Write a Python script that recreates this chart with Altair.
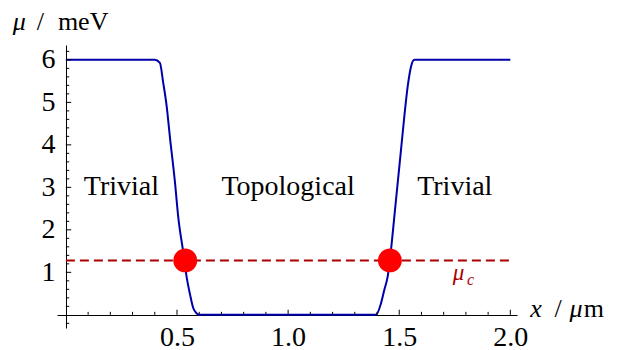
import altair as alt
import pandas as pd

# ---- data ----
left_x = [0.0, 0.400, 0.423, 0.438, 0.454, 0.468, 0.491, 0.506, 0.528, 0.544, 0.559, 0.573, 0.589, 0.600]
left_mu = [6.0, 6.0, 5.93, 5.46, 4.89, 4.19, 3.11, 2.28, 1.48, 0.87, 0.47, 0.16, 0.03, 0.0]
right_x = [1.395, 1.418, 1.433, 1.448, 1.463, 1.478, 1.493, 1.508, 1.523, 1.538, 1.553, 1.568, 1.583, 2.0]
right_mu = [0.0, 0.27, 0.59, 0.90, 1.53, 2.31, 3.10, 3.88, 4.67, 5.37, 5.84, 6.0, 6.0, 6.0]

mu_c = 1.28
cross_x = [0.537, 1.458]

phase_names = ["Trivial", "Topological", "Trivial"]
phase_x = [0.25, 1.0, 1.75]
phase_y = [3.0, 3.0, 3.0]

x_major = [0.5, 1.0, 1.5, 2.0]
x_minor = [0.1, 0.2, 0.3, 0.4, 0.6, 0.7, 0.8, 0.9, 1.1, 1.2, 1.3, 1.4, 1.6, 1.7, 1.8, 1.9]
y_major = [1, 2, 3, 4, 5, 6]
y_minor = [-0.2, 0.2, 0.4, 0.6, 0.8, 1.2, 1.4, 1.6, 1.8, 2.2, 2.4, 2.6, 2.8,
           3.2, 3.4, 3.6, 3.8, 4.2, 4.4, 4.6, 4.8, 5.2, 5.4, 5.6, 5.8, 6.2]

FONT = "Liberation Serif"
BLUE = "#0000AA"
DRED = "#AA0000"
RED = "#FF0000"

xs = alt.Scale(domain=[-0.04, 2.03], nice=False, zero=False)
ys = alt.Scale(domain=[-0.31, 6.35], nice=False, zero=False)

# ---- tables ----
curve = pd.DataFrame({
    "x": left_x + right_x,
    "mu": left_mu + right_mu,
})
curve["i"] = range(len(curve))

xt = pd.DataFrame({
    "x": x_major + x_minor,
    "y0": [0.0] * (len(x_major) + len(x_minor)),
    "y1": [0.12] * len(x_major) + [0.07] * len(x_minor),
})
yt = pd.DataFrame({
    "y": y_major + y_minor,
    "x0": [0.0] * (len(y_major) + len(y_minor)),
    "x1": [0.024] * len(y_major) + [0.015] * len(y_minor),
})

dash = pd.DataFrame({"x0": [0.0], "x1": [2.0], "mu": [mu_c]})
dots = pd.DataFrame({"x": cross_x, "mu": [mu_c] * len(cross_x)})
phases = pd.DataFrame({"txt": phase_names, "x": phase_x, "y": phase_y})

title_it = pd.DataFrame({"txt": ["μ", "x", "μ"], "x": [-0.239, 2.090, 2.266], "y": [6.70, -0.05, -0.05]})
title_up = pd.DataFrame({"txt": ["/", "meV", "/", "m"], "x": [-0.131, -0.036, 2.199, 2.330],
                         "y": [6.70, 6.70, -0.05, -0.05]})
muc_main = pd.DataFrame({"txt": ["μ"], "x": [1.741], "y": [0.82]})
muc_sub = pd.DataFrame({"txt": ["c"], "x": [1.805], "y": [0.71]})

xaxis = alt.Axis(values=x_major, format=".1f", offset=-13, ticks=False, tickSize=0, grid=False,
                 domainColor="black", domainWidth=1, labelFont=FONT, labelFontSize=28,
                 labelColor="black", labelPadding=8, labelBaseline="top", labelFlush=False,
                 labelOverlap=False, title=None)
yaxis = alt.Axis(values=y_major, format="d", offset=-9, ticks=False, tickSize=0, grid=False,
                 domainColor="black", domainWidth=1, labelFont=FONT, labelFontSize=28,
                 labelColor="black", labelPadding=11, labelBaseline="middle", labelAlign="right",
                 labelFlush=False, labelOverlap=False, title=None)


def X(f):
    return alt.X(f, scale=xs, axis=xaxis, title=None)


def Y(f):
    return alt.Y(f, scale=ys, axis=yaxis, title=None)


line = alt.Chart(curve).mark_line(color=BLUE, strokeWidth=2, interpolate="monotone").encode(
    x=X("x:Q"), y=Y("mu:Q"), order="i:Q")

xticks = alt.Chart(xt).mark_rule(color="black", strokeWidth=1).encode(
    x=X("x:Q"), y=Y("y0:Q"), y2="y1:Q")
yticks = alt.Chart(yt).mark_rule(color="black", strokeWidth=1).encode(
    y=Y("y:Q"), x=X("x0:Q"), x2="x1:Q")

dashed = alt.Chart(dash).mark_rule(color=DRED, strokeWidth=2, strokeDash=[9, 5]).encode(
    x=X("x0:Q"), x2="x1:Q", y=Y("mu:Q"))

circles = alt.Chart(dots).mark_circle(size=570, color=RED, opacity=1).encode(
    x=X("x:Q"), y=Y("mu:Q"))

phase_txt = alt.Chart(phases).mark_text(font=FONT, fontSize=28, color="black",
                                        align="center", baseline="middle").encode(
    x=X("x:Q"), y=Y("y:Q"), text="txt:N")

t_it = alt.Chart(title_it).mark_text(font=FONT, fontSize=26, fontStyle="italic", color="black",
                                     align="left", baseline="alphabetic").encode(
    x=X("x:Q"), y=Y("y:Q"), text="txt:N")
t_up = alt.Chart(title_up).mark_text(font=FONT, fontSize=26, color="black",
                                     align="left", baseline="alphabetic").encode(
    x=X("x:Q"), y=Y("y:Q"), text="txt:N")

m_main = alt.Chart(muc_main).mark_text(font=FONT, fontSize=23, fontStyle="italic", color=DRED,
                                       align="left", baseline="alphabetic").encode(
    x=X("x:Q"), y=Y("y:Q"), text="txt:N")
m_sub = alt.Chart(muc_sub).mark_text(font=FONT, fontSize=16, fontStyle="italic", color=DRED,
                                     align="left", baseline="alphabetic").encode(
    x=X("x:Q"), y=Y("y:Q"), text="txt:N")

chart = alt.layer(
    line, xticks, yticks, dashed, circles, phase_txt, t_it, t_up, m_main, m_sub
).properties(
    width=460, height=283,
    autosize=alt.AutoSizeParams(type="none"),
    padding={"left": 49, "top": 37, "right": 98, "bottom": 30},
    background="white",
).configure_view(strokeWidth=0)

chart.save("out.html", embed_options={"renderer": "svg", "actions": False})
